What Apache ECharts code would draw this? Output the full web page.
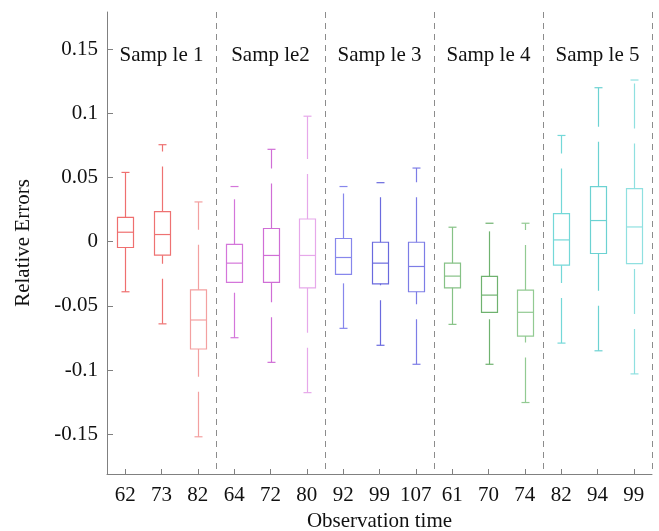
<!DOCTYPE html>
<html>
<head>
<meta charset="utf-8">
<script src="https://cdn.jsdelivr.net/npm/echarts@6/dist/echarts.min.js"></script>
<style>html,body{margin:0;padding:0;background:#fff}#c{width:659px;height:531px}</style>
</head>
<body>
<div id="c"></div>
<script>
const categories = ['62','73','82','64','72','80','92','99','107','61','70','74','82','94','99'];
const whiskerLow  = [-0.039,-0.064,-0.152,-0.0748,-0.094,-0.1176,-0.0675,-0.0807,-0.0955,-0.0644,-0.0955,-0.1253,-0.079,-0.085,-0.103];
const q1          = [-0.0045,-0.0105,-0.0836,-0.0317,-0.0317,-0.036,-0.0255,-0.0328,-0.039,-0.0359,-0.055,-0.0735,-0.0183,-0.0092,-0.017];
const medians     = [0.0074,0.0056,-0.061,-0.0167,-0.0107,-0.0107,-0.0123,-0.0167,-0.0193,-0.0268,-0.0416,-0.055,0.0014,0.0165,0.0115];
const q3          = [0.019,0.0235,-0.0375,-0.002,0.0103,0.0177,0.0025,-0.0004,-0.0004,-0.0167,-0.027,-0.0377,0.0219,0.0429,0.0414];
const whiskerHigh = [0.054,0.0756,0.031,0.043,0.072,0.0978,0.043,0.046,0.0574,0.0113,0.0144,0.0144,0.0828,0.120,0.126];
const sampleNames = ['Samp le 1','Samp le2','Samp le 3','Samp le 4','Samp le 5'];
const sampleLabelCategory = [1,4,7,10,13];
const sampleLabelValue = [0.145,0.145,0.145,0.145,0.145];
const yTicks = [-0.15,-0.1,-0.05,0,0.05,0.1,0.15];
const groupBoundaries = [3,6,9,12];

const boxColors = ['#ef6f6f','#ee7272','#f3a0a0',
                   '#d476da','#d06ed6','#e6a8ea',
                   '#8787ec','#6a6ade','#7d7de6',
                   '#86c286','#6fb26f','#92ca92',
                   '#74d8d8','#6cd2d2','#8fe0e0'];

const FONT = 'Liberation Serif';

const boxData = categories.map((c,i)=>[i, whiskerLow[i], q1[i], medians[i], q3[i], whiskerHigh[i]]);
const labelData = sampleNames.map((n,i)=>[sampleLabelCategory[i], sampleLabelValue[i], n]);

const chart = echarts.init(document.getElementById('c'), null, {renderer:'canvas'});
chart.setOption({
  animation:false,
  backgroundColor:'#ffffff',
  grid:{left:107,right:7,top:12,bottom:57,containLabel:false,outerBoundsMode:'none'},
  xAxis:{
    type:'category',
    data:categories,
    boundaryGap:true,
    name:'Observation time',
    nameLocation:'middle',
    nameGap:37,
    nameTextStyle:{fontFamily:FONT,fontSize:21,color:'#111'},
    axisLine:{onZero:false,lineStyle:{color:'#808080',width:1}},
    axisTick:{show:true,alignWithLabel:true,inside:true,length:5,lineStyle:{color:'#808080'}},
    axisLabel:{fontFamily:FONT,fontSize:21,color:'#111',margin:11,interval:0},
    splitLine:{show:true,interval:function(idx){return groupBoundaries.indexOf(idx)>=0;},
      lineStyle:{color:'#8c8c8c',type:[6,5],width:1}}
  },
  yAxis:{
    type:'value',
    min:-0.181,
    max:0.179,
    name:'Relative Errors',
    nameLocation:'middle',
    nameGap:73,
    nameTextStyle:{fontFamily:FONT,fontSize:21,color:'#111'},
    axisLine:{show:true,onZero:false,lineStyle:{color:'#808080',width:1}},
    axisTick:{show:true,inside:true,length:6,customValues:yTicks,lineStyle:{color:'#808080'}},
    axisLabel:{fontFamily:FONT,fontSize:21,color:'#111',margin:9,customValues:yTicks,
      formatter:function(v){return String(Math.round(v*100)/100);}},
    splitLine:{show:false}
  },
  series:[{
    type:'custom',
    data:boxData,
    encode:{x:0,y:[1,2,3,4,5]},
    renderItem:function(params, api){
      const i = api.value(0);
      const pLo = api.coord([i, api.value(1)]);
      const pQ1 = api.coord([i, api.value(2)]);
      const pMed = api.coord([i, api.value(3)]);
      const pQ3 = api.coord([i, api.value(4)]);
      const pHi = api.coord([i, api.value(5)]);
      const x = Math.round(pLo[0]) + 0.5;
      const bw = 16, cw = 8;
      const col = boxColors[params.dataIndex];
      const st = {stroke:col, lineWidth:1.2, fill:null};
      const dashSt = {stroke:col, lineWidth:1.2, lineDash:[45,15]};
      return {type:'group', children:[
        {type:'rect', shape:{x:x-bw/2, y:pQ3[1], width:bw, height:pQ1[1]-pQ3[1]}, style:st},
        {type:'line', shape:{x1:x-bw/2, y1:pMed[1], x2:x+bw/2, y2:pMed[1]}, style:st},
        {type:'line', shape:{x1:x, y1:pQ3[1], x2:x, y2:pHi[1]}, style:dashSt},
        {type:'line', shape:{x1:x, y1:pLo[1], x2:x, y2:pQ1[1]}, style:dashSt},
        {type:'line', shape:{x1:x-cw/2, y1:pHi[1], x2:x+cw/2, y2:pHi[1]}, style:st},
        {type:'line', shape:{x1:x-cw/2, y1:pLo[1], x2:x+cw/2, y2:pLo[1]}, style:st}
      ]};
    },
    z:3
  },{
    type:'custom',
    data:labelData,
    encode:{x:0,y:1},
    renderItem:function(params, api){
      const p = api.coord([api.value(0), api.value(1)]);
      return {type:'text', x:p[0], y:p[1], style:{text:labelData[params.dataIndex][2], fontFamily:FONT, fontSize:21, fill:'#111', align:'center', verticalAlign:'middle'}};
    },
    z:4
  }]
});
</script>
</body>
</html>
